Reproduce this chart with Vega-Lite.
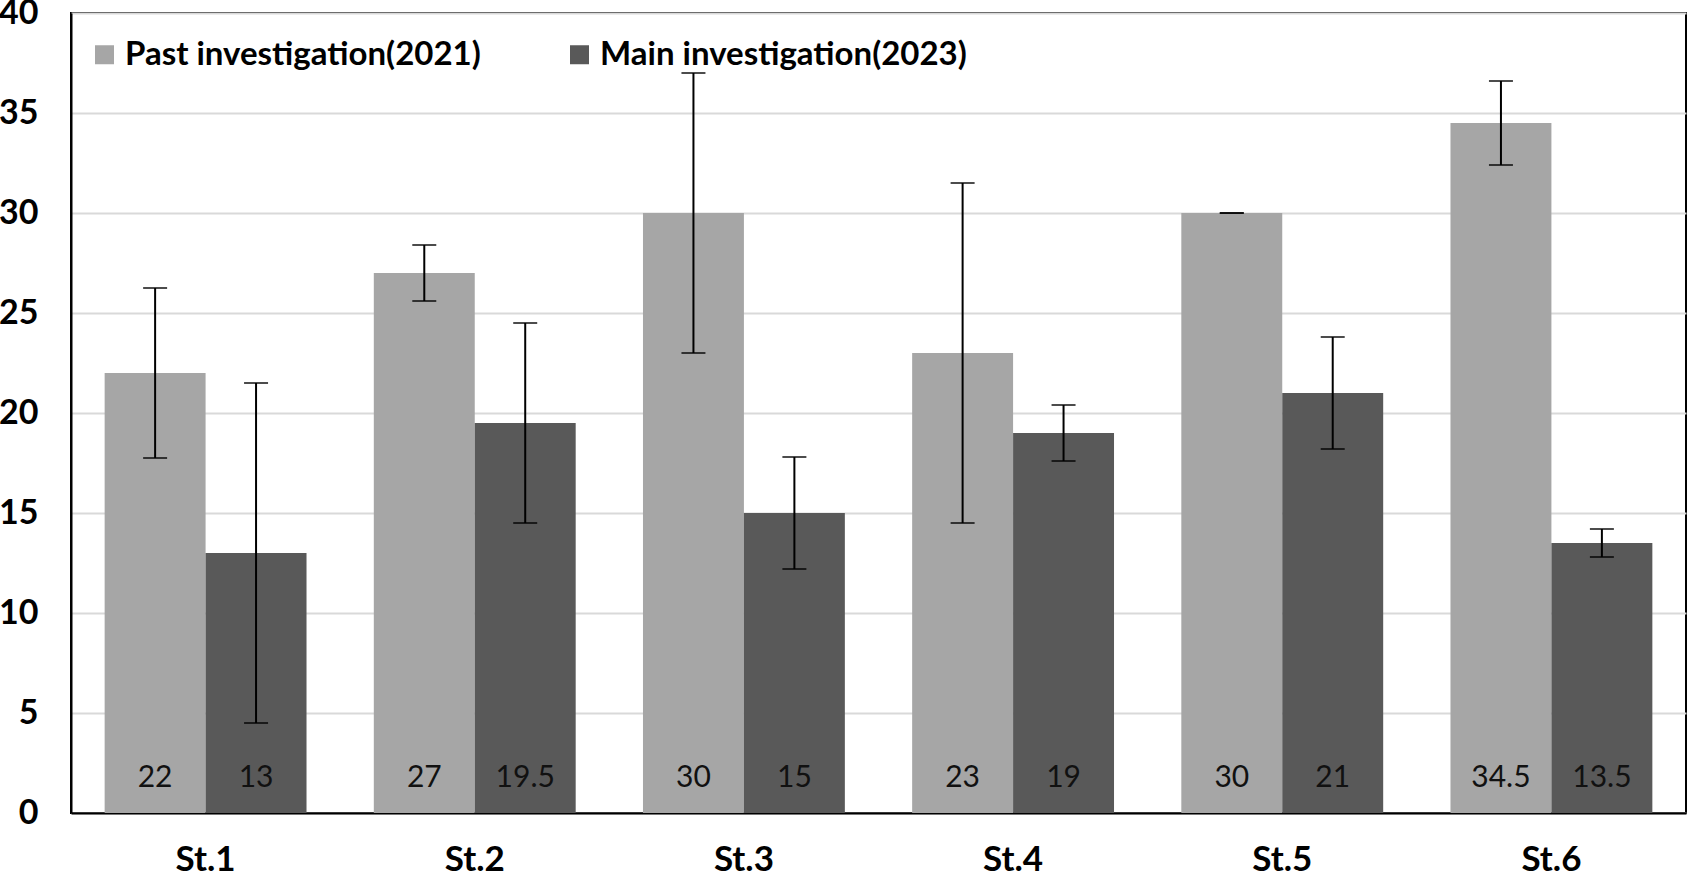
{
  "$schema": "https://vega.github.io/schema/vega-lite/v6.json",
  "width": 1615,
  "height": 800,
  "autosize": "none",
  "padding": {"left": 71, "top": 13, "right": 3, "bottom": 66},
  "background": "white",
  "config": {
    "font": "Lato",
    "view": {"stroke": "black", "strokeWidth": 2}
  },
  "data": {
    "values": [
      {"station": "St.1", "series": "Past investigation(2021)", "value": 22, "lo": 17.75, "hi": 26.25, "label": "22"},
      {"station": "St.1", "series": "Main investigation(2023)", "value": 13, "lo": 4.5, "hi": 21.5, "label": "13"},
      {"station": "St.2", "series": "Past investigation(2021)", "value": 27, "lo": 25.6, "hi": 28.4, "label": "27"},
      {"station": "St.2", "series": "Main investigation(2023)", "value": 19.5, "lo": 14.5, "hi": 24.5, "label": "19.5"},
      {"station": "St.3", "series": "Past investigation(2021)", "value": 30, "lo": 23, "hi": 37, "label": "30"},
      {"station": "St.3", "series": "Main investigation(2023)", "value": 15, "lo": 12.2, "hi": 17.8, "label": "15"},
      {"station": "St.4", "series": "Past investigation(2021)", "value": 23, "lo": 14.5, "hi": 31.5, "label": "23"},
      {"station": "St.4", "series": "Main investigation(2023)", "value": 19, "lo": 17.6, "hi": 20.4, "label": "19"},
      {"station": "St.5", "series": "Past investigation(2021)", "value": 30, "lo": 30, "hi": 30, "label": "30"},
      {"station": "St.5", "series": "Main investigation(2023)", "value": 21, "lo": 18.2, "hi": 23.8, "label": "21"},
      {"station": "St.6", "series": "Past investigation(2021)", "value": 34.5, "lo": 32.4, "hi": 36.6, "label": "34.5"},
      {"station": "St.6", "series": "Main investigation(2023)", "value": 13.5, "lo": 12.8, "hi": 14.2, "label": "13.5"}
    ]
  },
  "encoding": {
    "x": {
      "field": "station",
      "type": "nominal",
      "scale": {"paddingInner": 0.25, "paddingOuter": 0.125},
      "axis": {
        "title": null,
        "labelAngle": 0,
        "labelFontSize": 35,
        "labelFontWeight": "bold",
        "labelColor": "black",
        "labelPadding": 29,
        "ticks": false,
        "domainColor": "black",
        "domainWidth": 2
      }
    },
    "xOffset": {
      "field": "series",
      "type": "nominal",
      "sort": ["Past investigation(2021)", "Main investigation(2023)"],
      "scale": {"paddingInner": 0, "paddingOuter": 0}
    }
  },
  "layer": [
    {
      "mark": {"type": "bar"},
      "encoding": {
        "y": {
          "field": "value",
          "type": "quantitative",
          "scale": {"domain": [0, 40], "nice": false},
          "axis": {
            "title": null,
            "values": [0, 5, 10, 15, 20, 25, 30, 35, 40],
            "labelFontSize": 34,
            "labelFontWeight": "bold",
            "labelColor": "black",
            "labelPadding": 33,
            "ticks": false,
            "domainColor": "black",
            "domainWidth": 2,
            "gridColor": "#D9D9D9",
            "gridWidth": 2
          }
        },
        "color": {
          "field": "series",
          "type": "nominal",
          "sort": ["Past investigation(2021)", "Main investigation(2023)"],
          "scale": {
            "domain": ["Past investigation(2021)", "Main investigation(2023)"],
            "range": ["#A6A6A6", "#595959"]
          },
          "legend": {
            "title": null,
            "orient": "none",
            "legendX": 17,
            "legendY": 25,
            "direction": "horizontal",
            "symbolType": "square",
            "symbolSize": 361,
            "symbolStrokeWidth": 0,
            "labelFontSize": 33,
            "labelFontWeight": "bold",
            "labelColor": "black",
            "labelOffset": 4,
            "columnPadding": 82,
            "labelLimit": 700
          }
        }
      }
    },
    {
      "mark": {"type": "rule", "color": "black", "strokeWidth": 2},
      "encoding": {
        "y": {"field": "lo", "type": "quantitative"},
        "y2": {"field": "hi"}
      }
    },
    {
      "mark": {"type": "tick", "color": "black", "thickness": 2, "size": 24, "orient": "horizontal"},
      "encoding": {
        "y": {"field": "lo", "type": "quantitative"}
      }
    },
    {
      "mark": {"type": "tick", "color": "black", "thickness": 2, "size": 24, "orient": "horizontal"},
      "encoding": {
        "y": {"field": "hi", "type": "quantitative"}
      }
    },
    {
      "mark": {"type": "text", "fontSize": 30, "color": "#111111", "baseline": "middle", "dy": -35},
      "encoding": {
        "y": {"datum": 0},
        "text": {"field": "label", "type": "nominal"}
      }
    }
  ]
}
